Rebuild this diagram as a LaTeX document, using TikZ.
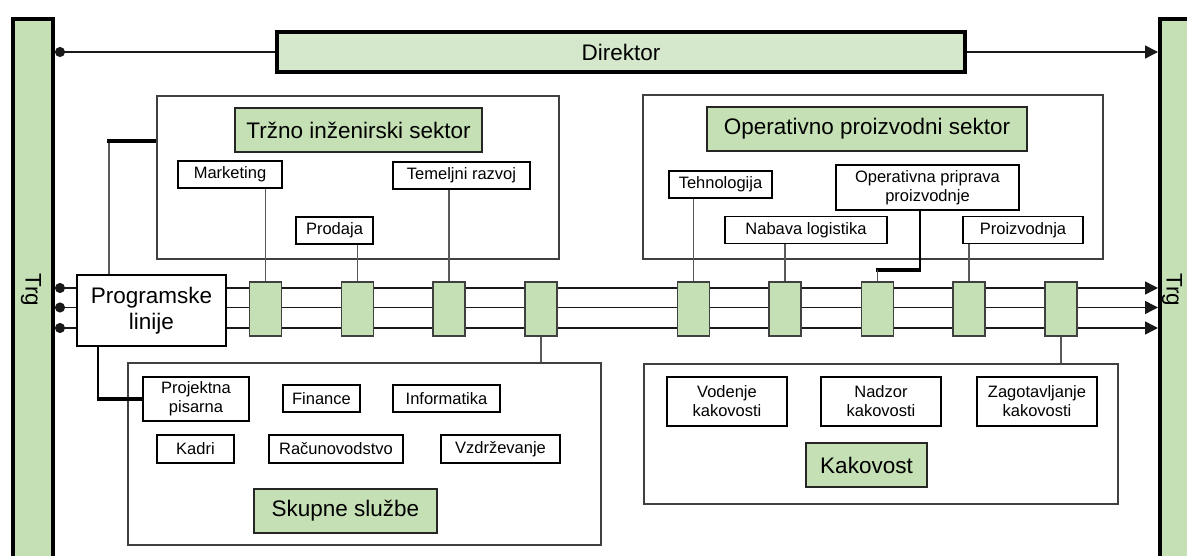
\documentclass[tikz,border=0pt]{standalone}
\usepackage{fontspec}
\setmainfont{Liberation Sans}
\usetikzlibrary{arrows.meta,backgrounds}
\definecolor{gr}{HTML}{C5E0B4}
\definecolor{grl}{HTML}{D5E8CB}
\definecolor{dk}{HTML}{404040}
\definecolor{ln}{HTML}{595959}
\tikzset{
  bigfont/.style={font=\fontsize{22.5}{26}\selectfont},
  smallfont/.style={font=\fontsize{16.5}{19}\selectfont},
  cont/.style={draw=dk, line width=1.2, fill=white, inner sep=0},
  sbox/.style={draw=black, line width=1.4, fill=white, inner sep=0, align=center, smallfont},
  head/.style={draw=black!85, line width=1.4, fill=gr, inner sep=0, bigfont},
  junc/.style={draw=dk, line width=1.2, fill=gr, minimum width=32, minimum height=54, inner sep=0},
  trgbar/.style={draw=black, line width=4, fill=gr, minimum width=40, minimum height=600, anchor=north west, inner sep=0},
  thinln/.style={draw=ln, line width=1.2},
  mainln/.style={draw=black!90, line width=1.5},
  jogln/.style={draw=black, line width=3.2},
  dotend/.style={arrows={{Circle[length=10,width=10]}-}},
}
\begin{document}
\begin{tikzpicture}[x=1pt,y=-1pt]
\useasboundingbox (0,0) rectangle (1187,556);
% bars
\node[trgbar] (trgL) at (11,17) {};
\node[trgbar] (trgR) at (1158,17) {};
\node[bigfont, rotate=-90] (trgLt) at (31,290) {Trg};
\node[bigfont, rotate=-90] (trgRt) at (1172,290) {Trg};
% director
\node[draw=black, line width=4, fill=grl, minimum width=688, minimum height=40, inner sep=0, bigfont] (dir) at (621,52) {Direktor};
% containers
\node[cont, minimum width=402, minimum height=163] (tcont) at (358,177.5) {};
\node[cont, minimum width=460, minimum height=164] (ocont) at (873,177) {};
\node[cont, minimum width=473, minimum height=182] (scont) at (364.5,454) {};
\node[cont, minimum width=474, minimum height=140] (kcont) at (881,434) {};
% headings
\node[head, minimum width=247, minimum height=44] (thead) at (358.5,130) {Tržno inženirski sektor};
\node[head, minimum width=320, minimum height=44] (ohead) at (867,129) {Operativno proizvodni sektor};
\node[head, minimum width=183, minimum height=44] (shead) at (345.5,511) {Skupne službe};
\node[head, minimum width=121, minimum height=44] (khead) at (866.5,465) {Kakovost};
% small boxes
\node[sbox, minimum width=104, minimum height=27] (mkt) at (230,174.5) {Marketing};
\node[sbox, minimum width=137, minimum height=27] (tem) at (461.5,175.5) {Temeljni razvoj};
\node[sbox, minimum width=77, minimum height=27] (pro) at (334.5,230.5) {Prodaja};
\node[sbox, minimum width=103, minimum height=27] (teh) at (720.5,184.5) {Tehnologija};
\node[sbox, minimum width=162, minimum height=27] (nab) at (806,230) {Nabava logistika};
\node[sbox, minimum width=183, minimum height=45] (opp) at (927.5,187.5) {Operativna priprava\\proizvodnje};
\node[sbox, minimum width=120, minimum height=27] (prz) at (1023,230) {Proizvodnja};
\node[sbox, minimum width=106, minimum height=44] (proj) at (196,399) {Projektna\\pisarna};
\node[sbox, minimum width=77, minimum height=27] (fin) at (321.5,398.5) {Finance};
\node[sbox, minimum width=107, minimum height=27] (inf) at (446.5,398.5) {Informatika};
\node[sbox, minimum width=77, minimum height=28] (kad) at (195.5,449) {Kadri};
\node[sbox, minimum width=134, minimum height=28] (rac) at (336,449) {Računovodstvo};
\node[sbox, minimum width=119, minimum height=28] (vzd) at (500.5,449) {Vzdrževanje};
\node[sbox, minimum width=120, minimum height=49] (vod) at (727,401.5) {Vodenje\\kakovosti};
\node[sbox, minimum width=120, minimum height=49] (nad) at (881,401.5) {Nadzor\\kakovosti};
\node[sbox, minimum width=120, minimum height=49] (zag) at (1037,401.5) {Zagotavljanje\\kakovosti};
% programske linije
\node[sbox, bigfont, minimum width=149, minimum height=71, line width=1.2] (prog) at (151.5,310.5) {Programske\\linije};
% junctions
\foreach \n/\x in {1/265.5,2/357.5,3/449,4/541,5/693.5,6/785,7/877.5,8/969,9/1061}
  \node[junc] (j\n) at (\x,309) {};
% main lines
\coordinate (yA) at (0,288);
\coordinate (yB) at (0,307.5);
\coordinate (yC) at (0,328);
\begin{scope}[on background layer]
\foreach \c in {yA,yB,yC}
  \draw[mainln, {Circle[length=10,width=10]}-{Triangle[length=13,width=13]}] (trgL.east |- \c) -- (trgR.west |- \c);
\end{scope}
% director lines
\draw[mainln, dotend] (trgL.east |- dir.west) -- (dir.west);
\draw[mainln, -{Triangle[length=13,width=13]}] (dir.east) -- (trgR.west |- dir.east);
% connectors to junctions
\draw[thinln] (mkt.south -| j1.north) -- (j1.north);
\draw[thinln] (pro.south -| j2.north) -- (j2.north);
\draw[thinln] (tem.south -| j3.north) -- (j3.north);
\draw[thinln] (teh.south -| j5.north) -- (j5.north);
\draw[thinln] (nab.south -| j6.north) -- (j6.north);
\draw[thinln] (prz.south -| j8.north) -- (j8.north);
\draw[thinln] (j4.south) -- (j4.south |- scont.north);
\draw[thinln] (j9.south) -- (j9.south |- kcont.north);
\coordinate (c3) at (920,270);
\coordinate (c4) at (j7.north |- c3);
\draw[thinln, draw=black] (opp.south -| c3) -- (c3);
\draw[jogln] ([xshift=0.6]c3) -- ([xshift=-2]c4);
\draw[thinln] (c4) -- (j7.north);
% programske links
\coordinate (c1) at (109,141);
\draw[thinln] (prog.north -| c1) -- (c1);
\draw[jogln] ([xshift=-2]c1) -- (c1 -| tcont.west);
\coordinate (c2) at (98,399);
\draw[thinln, draw=black] (prog.south -| c2) -- (c2);
\draw[jogln] ([xshift=-1.5]c2) -- (proj.west);
\end{tikzpicture}
\end{document}
